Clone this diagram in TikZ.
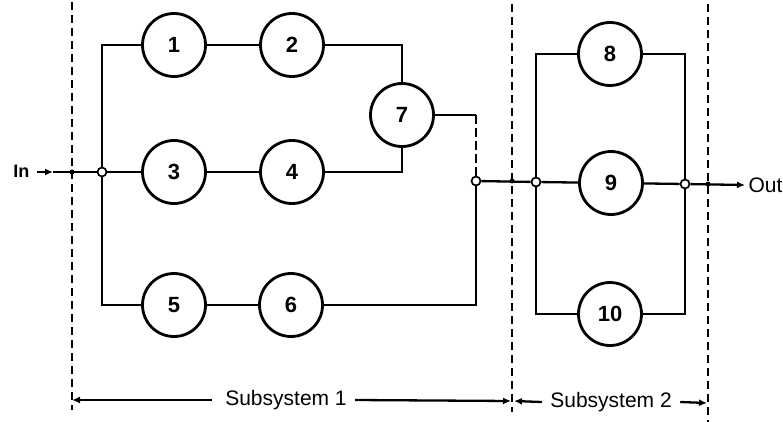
\documentclass[tikz,border=0pt]{standalone}
\usepackage{fontspec}
\setmainfont{Liberation Sans}
\usetikzlibrary{arrows.meta}
\begin{document}
\begin{tikzpicture}[x=1pt,y=-1pt,
  unit/.style={circle,draw,line width=2.8pt,minimum size=63pt,inner sep=0pt,font=\fontsize{22}{22}\selectfont\bfseries},
  wire/.style={line width=2.3pt},
  boundary/.style={line width=2.8pt,dash pattern=on 8pt off 5pt},
  junction/.style={circle,draw,fill=white,line width=1.7pt,minimum size=9pt,inner sep=0pt},
  dotmark/.style={circle,fill=black,minimum size=5pt,inner sep=0pt},
  tip/.style={-{Latex[length=8pt,width=7pt]}},
  label/.style={font=\fontsize{21}{21}\selectfont}]
\useasboundingbox (0,0) rectangle (783,422);

% subsystem boundaries
\coordinate (bL1) at (72,2);   \coordinate (bL2) at (72,410);
\coordinate (bM1) at (512,4);  \coordinate (bM2) at (512,412);
\coordinate (bR1) at (708,4);  \coordinate (bR2) at (708,422);
\draw[boundary] (bL1) -- (bL2);
\draw[boundary] (bM1) -- (bM2);
\draw[boundary] (bR1) -- (bR2);

% components
\node[unit] (c1) at (174,45) {1};
\node[unit] (c2) at (292,45) {2};
\node[unit] (c7) at (402,115) {7};
\node[unit] (c3) at (174,172) {3};
\node[unit] (c4) at (292,172) {4};
\node[unit] (c5) at (174,305) {5};
\node[unit] (c6) at (291,305) {6};
\node[unit] (c8) at (610,54) {8};
\node[unit] (c9) at (611,183) {9};
\node[unit] (c10) at (610,314) {10};

% junctions
\node[junction] (j1) at (102,172) {};
\node[junction] (j2) at (476,181) {};
\node[junction] (j3) at (536,182) {};
\node[junction] (j4) at (685,184) {};

% subsystem 1 wiring
\draw[wire] (c1.west) -- (102,45) -- (j1.north);
\draw[wire] (j1.south) -- (102,305) -- (c5.west);
\draw[wire] (j1) -- (c3);
\draw[wire] (c1) -- (c2);
\draw[wire] (c3) -- (c4);
\draw[wire] (c5) -- (c6);
\draw[wire] (c2.east) -- (402,45) -- (c7.north);
\draw[wire] (c4.east) -- (402,172) -- (c7.south);
\draw[wire] (c7.east) -- (476,115);
\draw[wire,dash pattern=on 9pt off 4pt] (476,115) -- (j2.north);
\draw[wire] (c6.east) -- (476,305) -- (j2.south);

% subsystem 2 wiring
\draw[wire] (j2) -- (j3);
\draw[wire] (c8.west) -- (536,54) -- (j3.north);
\draw[wire] (j3.south) -- (536,314) -- (c10.west);
\draw[wire] (j3) -- (c9);
\draw[wire] (c8.east) -- (685,54) -- (j4.north);
\draw[wire] (c10.east) -- (685,314) -- (j4.south);
\draw[wire] (c9) -- (j4);
\node[dotmark] (xm) at (512,181) {};

% input
\node[anchor=east,font=\fontsize{18}{18}\selectfont\bfseries] (in) at (33,171) {In};
\coordinate (inA) at (37,172);
\coordinate (inB) at (53,172);
\draw[wire,tip] (inA) -- (inB);
\draw[wire] (inB) -- (j1);
\node[dotmark] (xl) at (72,172) {};

% output
\node[label,anchor=west] (out) at (745,185) {Out};
\draw[wire,tip] (j4) -- (out.west);
\node[dotmark] (xr) at (708,184) {};

% subsystem spans
\node[label] (s1) at (286,400) {Subsystem 1};
\node[label] (s2) at (611,402) {Subsystem 2};
\coordinate (s1L) at (72,400);
\coordinate (s1R) at (511,401);
\coordinate (s2L) at (514,401);
\coordinate (s2R) at (707,403);
\draw[wire,tip] (s1.west) ++(-10,0) -- (s1L);
\draw[wire,tip] (s1.east) ++(5,0) -- (s1R);
\draw[wire,tip] (s2.west) ++(-5,0) -- (s2L);
\draw[wire,tip] (s2.east) ++(5,0) -- (s2R);
\end{tikzpicture}
\end{document}
